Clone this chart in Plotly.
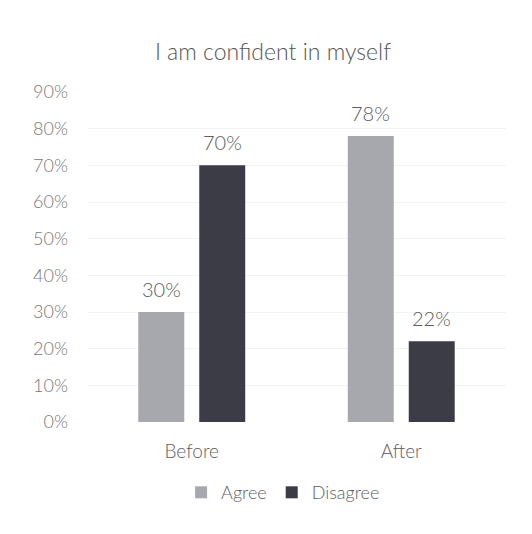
import plotly.graph_objects as go

categories = ["Before", "After"]
agree = [0.30, 0.78]
disagree = [0.70, 0.22]
series_names = ["Agree", "Disagree"]
colors = ["#a7a7ae", "#3b3c46"]
tick_vals = [0, 0.1, 0.2, 0.3, 0.4, 0.5, 0.6, 0.7, 0.8, 0.9]
tick_text = ["0%", "10%", "20%", "30%", "40%", "50%", "60%", "70%", "80%", "90%"]

FONT = "Lato, Open Sans, sans-serif"
TXT = "#5e5e5e"

fig = go.Figure()
for name, vals, col in zip(series_names, [agree, disagree], colors):
    fig.add_trace(go.Bar(name=name, x=categories, y=vals, marker_color=col,
                         marker_line_width=0))

annotations = []
for vals, shift in [(agree, -30.5), (disagree, 30.5)]:
    for c, v in zip(categories, vals):
        annotations.append(dict(x=c, y=v, xref="x", yref="y", xshift=shift,
                                text=f"{round(v*100)}%", showarrow=False,
                                yanchor="middle", yshift=23,
                                font=dict(family=FONT, size=20, color=TXT, weight=300)))

fig.update_layout(
    width=532, height=534,
    margin=dict(l=79, r=34, t=84, b=120),
    paper_bgcolor="white", plot_bgcolor="white",
    title=dict(text="I am confident in myself", x=0.498, xanchor="center",
               y=1 - 44/534, yanchor="middle",
               font=dict(family=FONT, size=23, color="#555555", weight=300)),
    barmode="group", bargap=0.418, bargroupgap=0.246,
    showlegend=True,
    legend=dict(orientation="h", x=0.468, xanchor="center", y=-0.214, yanchor="middle",
                font=dict(family=FONT, size=18, color=TXT, weight=300),
                traceorder="normal", itemwidth=30),
    annotations=annotations,
    font=dict(family=FONT, color=TXT),
)
fig.update_yaxes(range=[0, 0.9], tickvals=tick_vals, ticktext=tick_text,
                 showgrid=True, gridcolor="#f3f3f3", zeroline=False,
                 tickfont=dict(family=FONT, size=18, color="#787878", weight=300),
                 ticklen=0, ticks="", ticklabelstandoff=18)
fig.update_xaxes(showgrid=False, showline=False,
                 tickfont=dict(family=FONT, size=19, color=TXT, weight=300), ticks="",
                 ticklabelstandoff=16)

fig.write_html("out.html")
